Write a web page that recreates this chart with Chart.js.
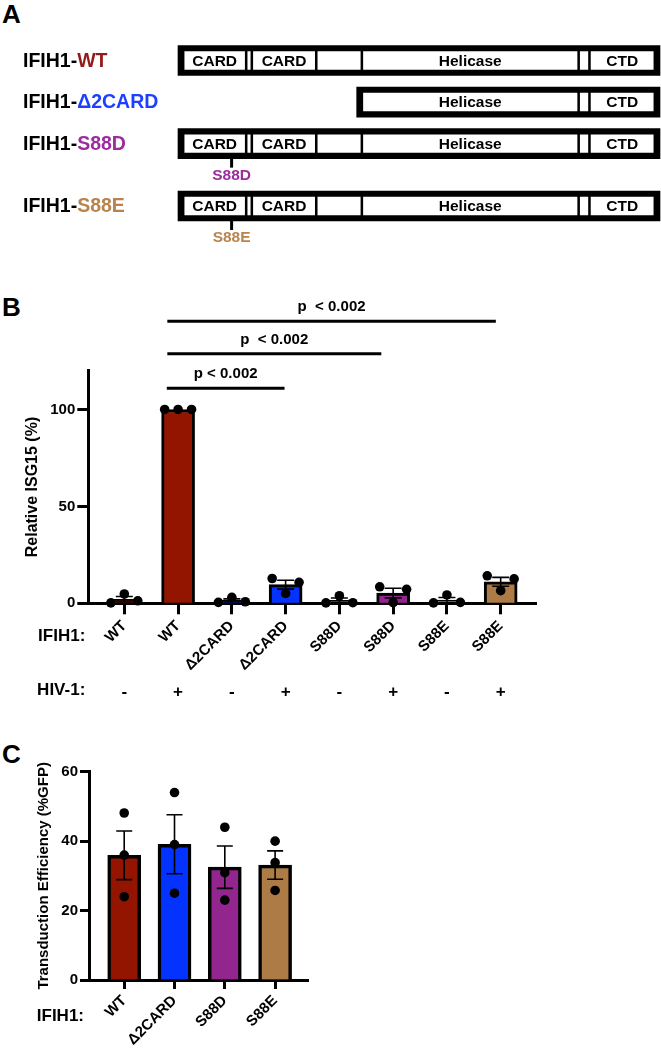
<!DOCTYPE html>
<html><head><meta charset="utf-8">
<script src="https://cdn.jsdelivr.net/npm/chart.js@4/dist/chart.umd.min.js"></script>
<style>
html,body{margin:0;padding:0;background:#fff;}
body{width:661px;height:1050px;position:relative;overflow:hidden;font-family:"Liberation Sans",Arial,sans-serif;}
canvas{position:absolute;left:0;}
.plab{position:absolute;left:2px;font-weight:bold;font-size:26px;line-height:26px;color:#000;}
</style></head><body>
<div class="plab" style="top:1px">A</div>
<div class="plab" style="top:294px">B</div>
<div class="plab" style="top:741px">C</div>
<canvas id="cA" width="661" height="250" style="top:0"></canvas>
<canvas id="cB" width="661" height="440" style="top:280px"></canvas>
<canvas id="cC" width="661" height="330" style="top:720px"></canvas>
<script>
// ---------- DATA ----------
// Panel A: construct diagram (diagram coordinate along IFIH1)
const constructs = ['WT', 'Δ2CARD', 'S88D', 'S88E'];
const rowSlots = ['WT', '', 'Δ2CARD', '', 'S88D', '', '', 'S88E']; // blank slots are spacers
const frameStart = [0, 380, 0, 0];
const frameEnd = [1025, 1025, 1025, 1025];
const domainNames = ['CARD', '', 'CARD', '', 'Helicase', '', 'CTD'];
const domainStart = [11, 145, 157, 294, 391, 852, 875];
const domainEnd = [145, 157, 294, 391, 852, 875, 1014];
const firstDomain = [0, 4, 0, 0];
const mutationLabel = ['', '', 'S88D', 'S88E'];
const mutationPos = 114;

// Panel B: relative ISG15 (%)
const ifih1Labels = ['WT', 'WT', 'Δ2CARD', 'Δ2CARD', 'S88D', 'S88D', 'S88E', 'S88E'];
const hivLabels = ['-', '+', '-', '+', '-', '+', '-', '+'];
const isgMean = [2.1, 100, 1.5, 9.6, 1.5, 5.3, 1.7, 11.1];
const isgSem = [1.4, 0, 0.8, 2.3, 1.2, 2.5, 1.3, 2.3];
const isgRep1 = [0.2, 100, 0.5, 12.8, 0.2, 8.5, 0.2, 14.2];
const isgRep2 = [4.8, 100, 3.1, 5.1, 3.9, 0.3, 4.3, 6.5];
const isgRep3 = [1.3, 100, 0.8, 10.8, 0.3, 7.2, 0.5, 12.6];
const isgTicks = [0, 50, 100];
const sigStart = [0.79, 0.8, 0.8];
const sigEnd = [2.98, 4.78, 6.91];
const sigLevel = [110.9, 128.8, 145.5];
const sigText = ['p < 0.002', 'p  < 0.002', 'p  < 0.002'];

// Panel C: transduction efficiency (%GFP)
const gfpLabels = ['WT', 'Δ2CARD', 'S88D', 'S88E'];
const gfpMean = [35.9, 39.1, 32.5, 33.1];
const gfpSem = [7.0, 8.5, 6.1, 4.1];
const gfpRep1 = [48.1, 54.0, 44.0, 40.0];
const gfpRep2 = [36.0, 39.0, 30.9, 33.8];
const gfpRep3 = [24.0, 25.0, 23.0, 25.8];
const gfpTicks = [0, 20, 40, 60];

// ---------- STYLE ----------
const FONT = "'Liberation Sans', Arial, sans-serif";
Chart.defaults.font.family = FONT;
Chart.defaults.color = '#000';
const barColor = {'WT': '#931500', 'Δ2CARD': '#0433ff', 'S88D': '#93258f', 'S88E': '#ad7b45'};
const textColor = {'WT': '#941b1b', 'Δ2CARD': '#1d3fff', 'S88D': '#9b2c9e', 'S88E': '#b8844c'};
const JIT = [-0.25, 0, 0.25];

// ---------- PANEL A ----------
const slotConstruct = rowSlots.map(s => constructs.indexOf(s));
const frameDs = {
  data: slotConstruct.map(c => c < 0 ? null : [frameStart[c], frameEnd[c]]),
  backgroundColor: '#000', borderWidth: 0, barThickness: 30, order: 10, clip: false
};
const domainDs = domainNames.map((name, j) => ({
  label: name,
  data: slotConstruct.map(c => (c < 0 || j < firstDomain[c]) ? null : [domainStart[j], domainEnd[j]]),
  backgroundColor: '#fff', borderColor: '#000', borderWidth: 1.6, borderSkipped: false,
  barThickness: 21, order: 1, clip: false
}));
const diagramPlugin = {
  id: 'diagram',
  afterDatasetsDraw(chart) {
    const ctx = chart.ctx, xs = chart.scales.x, ys = chart.scales.y;
    ctx.save();
    ctx.textBaseline = 'middle';
    ctx.font = 'bold 15.5px ' + FONT; ctx.fillStyle = '#000'; ctx.textAlign = 'center';
    chart.data.datasets.forEach((ds, di) => {
      if (!ds.label) return;
      chart.getDatasetMeta(di).data.forEach((el, i) => {
        if (ds.data[i] == null) return;
        ctx.fillText(ds.label, (el.x + el.base) / 2, el.y + 1);
      });
    });
    constructs.forEach((c, k) => {
      const slot = rowSlots.indexOf(c);
      const y = ys.getPixelForValue(slot);
      ctx.textAlign = 'left';
      ctx.font = 'bold 19.5px ' + FONT;
      ctx.fillStyle = '#000';
      const pre = 'IFIH1-';
      ctx.fillText(pre, 23, y + 1);
      const w = ctx.measureText(pre).width;
      ctx.fillStyle = textColor[c];
      ctx.fillText(c, 23 + w, y + 1);
      if (mutationLabel[k]) {
        const x = xs.getPixelForValue(mutationPos);
        ctx.strokeStyle = '#000'; ctx.lineWidth = 3;
        ctx.beginPath(); ctx.moveTo(x, y + 15); ctx.lineTo(x, y + 24); ctx.stroke();
        ctx.font = 'bold 15.5px ' + FONT; ctx.textAlign = 'center';
        ctx.fillStyle = textColor[c];
        ctx.fillText(mutationLabel[k], x, y + 32);
      }
    });
    ctx.restore();
  }
};
new Chart(document.getElementById('cA'), {
  type: 'bar',
  data: {labels: rowSlots, datasets: [frameDs, ...domainDs]},
  options: {
    indexAxis: 'y', responsive: false, animation: false, events: [],
    layout: {padding: {left: 178, right: 1, top: 60.5, bottom: 44}},
    datasets: {bar: {grouped: false}},
    scales: {
      x: {type: 'linear', min: 0, max: 1025, display: false, offset: false},
      y: {type: 'category', display: false, offset: false, grid: {offset: false}}
    },
    plugins: {legend: {display: false}, tooltip: {enabled: false}}
  },
  plugins: [diagramPlugin]
});

// ---------- shared helpers ----------
function errorBarPlugin(mean, sem, cap, lw) {
  return {
    id: 'errbars',
    afterDatasetDraw(chart, args) {
      if (args.meta.type !== 'bar') return;
      const ctx = chart.ctx, ys = chart.scales.y;
      ctx.save(); ctx.strokeStyle = '#000'; ctx.lineWidth = lw;
      args.meta.data.forEach((el, i) => {
        if (!sem[i]) return;
        const yh = ys.getPixelForValue(mean[i] + sem[i]);
        const yl = ys.getPixelForValue(mean[i] - sem[i]);
        const x = el.x;
        ctx.beginPath();
        ctx.moveTo(x, yh); ctx.lineTo(x, yl);
        ctx.moveTo(x - cap / 2, yh); ctx.lineTo(x + cap / 2, yh);
        ctx.moveTo(x - cap / 2, yl); ctx.lineTo(x + cap / 2, yl);
        ctx.stroke();
      });
      ctx.restore();
    }
  };
}
function axisStyle(tickLen) {
  return {
    offset: false,
    border: {display: true, color: '#000', width: 3},
    grid: {display: true, offset: false, drawOnChartArea: false, drawTicks: true, tickLength: tickLen, tickWidth: 3, tickColor: '#000'}
  };
}
function labelCenterY(scale) {
  const items = scale.getLabelItems();
  return items.length ? items[0].options.translation[1] + items[0].options.textOffset : scale.top;
}

// ---------- PANEL B ----------
const ptsB = [];
[isgRep1, isgRep2, isgRep3].forEach((rep, r) => rep.forEach((v, i) => ptsB.push({x: i + JIT[r], y: v})));
const sigPlugin = {
  id: 'sig',
  afterDraw(chart) {
    const ctx = chart.ctx, xs = chart.scales.x, ys = chart.scales.y, x2 = chart.scales.x2;
    ctx.save();
    ctx.strokeStyle = '#000'; ctx.fillStyle = '#000'; ctx.lineWidth = 3;
    ctx.textAlign = 'center'; ctx.textBaseline = 'middle';
    ctx.font = 'bold 15px ' + FONT;
    sigText.forEach((t, k) => {
      const a = xs.getPixelForValue(sigStart[k]), b = xs.getPixelForValue(sigEnd[k]);
      const y = ys.getPixelForValue(sigLevel[k]);
      ctx.beginPath(); ctx.moveTo(a, y); ctx.lineTo(b, y); ctx.stroke();
      ctx.fillText(t, (a + b) / 2, y - 14);
    });
    ctx.textAlign = 'right';
    ctx.font = 'bold 17px ' + FONT;
    ctx.fillText('IFIH1:', chart.chartArea.left - 3, chart.chartArea.bottom + 33);
    let hy = labelCenterY(x2);
    if (!isFinite(hy)) hy = x2.top + 17;
    ctx.fillText('HIV-1:', chart.chartArea.left - 3, hy);
    ctx.restore();
  }
};
new Chart(document.getElementById('cB'), {
  type: 'bar',
  data: {
    datasets: [
      {type: 'bar', data: isgMean.map((m, i) => ({x: i, y: m})),
       backgroundColor: ifih1Labels.map(l => barColor[l]), borderColor: '#000', borderWidth: 3,
       barThickness: 33, order: 2, clip: false},
      {type: 'scatter', data: ptsB, pointRadius: 4.8, pointBackgroundColor: '#000',
       pointBorderWidth: 0, order: 1, clip: false}
    ]
  },
  options: {
    responsive: false, animation: false, events: [],
    layout: {padding: {left: 0, right: 124.3, top: 90.7, bottom: 0}},
    scales: {
      x: Object.assign({
        type: 'linear', position: 'bottom', weight: 0, min: -0.67, max: 7.67,
        afterBuildTicks: s => { s.ticks = ifih1Labels.map((_, i) => ({value: i})); },
        afterFit: s => { s.height = 70; },
        ticks: {autoSkip: false, minRotation: 45, maxRotation: 45, padding: 3, color: '#000',
                font: {size: 15, weight: 'bold'}, callback: v => ifih1Labels[v]}
      }, axisStyle(11)),
      x2: {
        type: 'linear', position: 'bottom', weight: 1, min: -0.67, max: 7.67, offset: false,
        afterBuildTicks: s => { s.ticks = hivLabels.map((_, i) => ({value: i})); },
        afterFit: s => { s.height = 46.7; },
        border: {display: false}, grid: {display: false, offset: false},
        ticks: {autoSkip: false, minRotation: 0, maxRotation: 0, padding: 1, color: '#000',
                font: {size: 17, weight: 'bold'}, callback: v => hivLabels[v]}
      },
      y: Object.assign({
        type: 'linear', min: 0, max: 120,
        afterBuildTicks: s => { s.ticks = isgTicks.map(v => ({value: v})); },
        afterFit: s => { s.width = 88.3; },
        ticks: {padding: 2, color: '#000', font: {size: 15, weight: 'bold'}},
        title: {display: true, text: 'Relative ISG15 (%)', color: '#000',
                font: {size: 16, weight: 'bold'}, padding: {top: 23, bottom: 0}}
      }, axisStyle(11))
    },
    plugins: {legend: {display: false}, tooltip: {enabled: false}}
  },
  plugins: [errorBarPlugin(isgMean, isgSem, 17, 1.6), sigPlugin]
});

// ---------- PANEL C ----------
const ptsC = [];
[gfpRep1, gfpRep2, gfpRep3].forEach(rep => rep.forEach((v, i) => ptsC.push({x: i, y: v})));
const rowLabelC = {
  id: 'rowC',
  afterDraw(chart) {
    const ctx = chart.ctx;
    ctx.save(); ctx.fillStyle = '#000'; ctx.textAlign = 'right'; ctx.textBaseline = 'middle';
    ctx.font = 'bold 17px ' + FONT;
    ctx.fillText('IFIH1:', chart.chartArea.left - 5, chart.chartArea.bottom + 36);
    ctx.restore();
  }
};
new Chart(document.getElementById('cC'), {
  type: 'bar',
  data: {
    datasets: [
      {type: 'bar', data: gfpMean.map((m, i) => ({x: i, y: m})),
       backgroundColor: gfpLabels.map(l => barColor[l]), borderColor: '#000', borderWidth: 3.5,
       barThickness: 33, order: 2, clip: false},
      {type: 'scatter', data: ptsC, pointRadius: 4.8, pointBackgroundColor: '#000',
       pointBorderWidth: 0, order: 1, clip: false}
    ]
  },
  options: {
    responsive: false, animation: false, events: [],
    layout: {padding: {left: 0, right: 352.7, top: 51.7, bottom: 0}},
    scales: {
      x: Object.assign({
        type: 'linear', position: 'bottom', min: -0.7, max: 3.66,
        afterBuildTicks: s => { s.ticks = gfpLabels.map((_, i) => ({value: i})); },
        afterFit: s => { s.height = 70; },
        ticks: {autoSkip: false, minRotation: 45, maxRotation: 45, padding: 3, color: '#000',
                font: {size: 15, weight: 'bold'}, callback: v => gfpLabels[v]}
      }, axisStyle(9)),
      y: Object.assign({
        type: 'linear', min: 0, max: 60,
        afterBuildTicks: s => { s.ticks = gfpTicks.map(v => ({value: v})); },
        afterFit: s => { s.width = 89; },
        ticks: {padding: 2, color: '#000', font: {size: 15, weight: 'bold'}},
        title: {display: true, text: 'Transduction Efficiency (%GFP)', color: '#000',
                font: {size: 15, weight: 'bold'}, padding: {top: 35, bottom: 0}}
      }, axisStyle(9))
    },
    plugins: {legend: {display: false}, tooltip: {enabled: false}}
  },
  plugins: [errorBarPlugin(gfpMean, gfpSem, 16, 1.6), rowLabelC]
});
</script></body></html>
